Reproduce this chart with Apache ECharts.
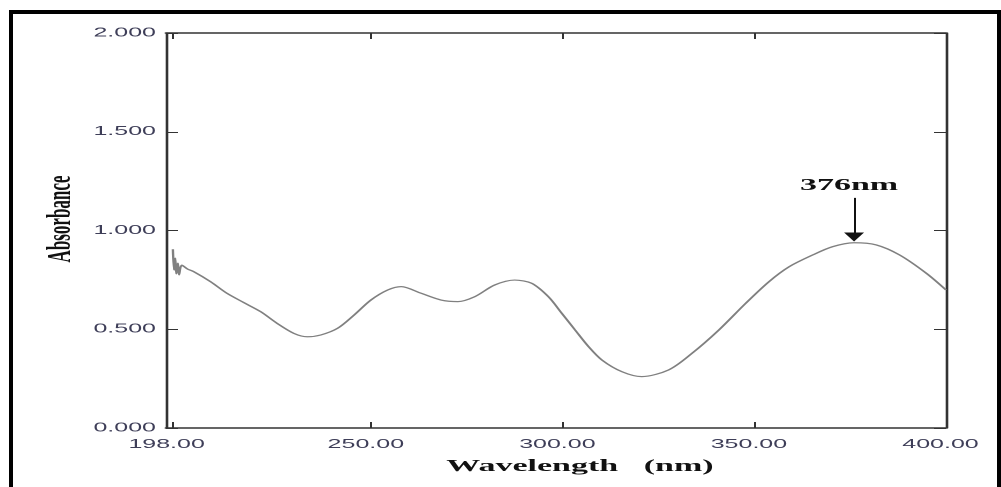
<!DOCTYPE html>
<html>
<head>
<meta charset="utf-8">
<script src="https://cdn.jsdelivr.net/npm/echarts@6/dist/echarts.min.js"></script>
<style>
  html, body { margin: 0; padding: 0; background: #fff; overflow: hidden; }
  /* the original print is stretched about 2x sideways, so draw at half width and stretch */
  #main { width: 500.5px; height: 487px; transform: scaleX(2); transform-origin: 0 0; }
</style>
</head>
<body>
<div id="main"></div>
<script>
// spectrum (nm, absorbance)
var wavelength = [198.2, 198.5, 198.8, 199.1, 199.5, 199.8, 200.5, 202.0, 203.6, 208.0,
  212.3, 216.7, 221.1, 225.4, 229.8, 233.3, 236.8, 241.2, 245.5, 249.9,
  254.3, 257.8, 263.0, 268.2, 272.6, 277.0, 282.2, 287.4, 291.8, 296.2,
  299.7, 303.2, 306.7, 310.2, 315.4, 320.6, 327.6, 333.7, 340.7, 347.7,
  353.8, 359.1, 365.2, 370.4, 376.0, 381.8, 387.9, 394.9, 400.0];
var absorbance = [0.905, 0.800, 0.860, 0.780, 0.835, 0.775, 0.825, 0.805, 0.792, 0.741,
  0.682, 0.635, 0.589, 0.530, 0.479, 0.462, 0.471, 0.505, 0.572, 0.648,
  0.699, 0.716, 0.682, 0.648, 0.640, 0.665, 0.724, 0.749, 0.733, 0.665,
  0.581, 0.496, 0.412, 0.344, 0.285, 0.260, 0.294, 0.378, 0.496, 0.631,
  0.741, 0.817, 0.876, 0.918, 0.938, 0.927, 0.876, 0.783, 0.699];
var xTicks = [198, 250, 300, 350, 400];
var peakNm = 376;
var peakLabel = '376nm';
var arrowFromTo = [1.165, 0.967];

var myChart = echarts.init(document.getElementById('main'), null, {renderer: 'canvas', devicePixelRatio: 2});

var axisColor = '#333';
var labelStyle = {fontFamily: 'Liberation Sans, Arial', fontSize: 12.5, color: '#3e3e58'};
var serifBold = {fontFamily: 'Liberation Serif, Times New Roman', fontWeight: 'bold', color: '#111'};

var data = [];
for (var i = 0; i < wavelength.length; i++) {
  data.push([wavelength[i], absorbance[i]]);
}

function xAxisOf(pos, showLabel) {
  return {
    type: 'value', position: pos, min: 196.4, max: 400,
    axisLine: {show: true, onZero: false, lineStyle: {color: axisColor, width: 1.5}},
    axisTick: {show: true, inside: true, length: 6, customValues: xTicks, lineStyle: {color: axisColor, width: 1}},
    axisLabel: Object.assign({show: showLabel, customValues: xTicks, margin: 10, padding: [0, 5.5, 0, 0],
      formatter: function (v) { return v.toFixed(2); }}, labelStyle),
    splitLine: {show: false}
  };
}
function yAxisOf(pos, showLabel) {
  return {
    type: 'value', position: pos, min: 0, max: 2, interval: 0.5,
    axisLine: {show: true, onZero: false, lineStyle: {color: axisColor, width: 1.3}},
    axisTick: {show: true, inside: true, length: 6, lineStyle: {color: axisColor, width: 1}},
    axisLabel: Object.assign({show: showLabel, margin: 5,
      formatter: function (v) { return v.toFixed(3); }}, labelStyle),
    splitLine: {show: false}
  };
}

var xBottom = xAxisOf('bottom', true);
xBottom.name = 'Wavelength   (nm)';
xBottom.nameLocation = 'middle';
xBottom.nameGap = 30;
xBottom.nameMoveOverlap = false;
xBottom.nameTextStyle = Object.assign({fontSize: 17, padding: [0, 0, 0, 24]}, serifBold);

var yLeft = yAxisOf('left', true);
yLeft.name = 'Absorbance';
yLeft.nameLocation = 'middle';
yLeft.nameRotate = 90;
yLeft.nameGap = 44;
yLeft.nameMoveOverlap = false;
yLeft.nameTextStyle = Object.assign({fontSize: 17, padding: [0, 0, 0, 23]}, serifBold);

var option = {
  animation: false,
  backgroundColor: '#fff',
  grid: {left: 83, right: 28, top: 33, bottom: 59},
  xAxis: [xBottom, xAxisOf('top', false)],
  yAxis: [yLeft, yAxisOf('right', false)],
  graphic: [
    {type: 'line', shape: {x1: 5.5, y1: 10, x2: 5.5, y2: 490}, style: {stroke: '#000', lineWidth: 2}},
    {type: 'line', shape: {x1: 499.5, y1: 10, x2: 499.5, y2: 490}, style: {stroke: '#000', lineWidth: 2}},
    {type: 'line', shape: {x1: 4.5, y1: 12, x2: 500.5, y2: 12}, style: {stroke: '#000', lineWidth: 4}}
  ],
  series: [{
    type: 'line',
    data: data,
    showSymbol: false,
    smooth: 0.3,
    lineStyle: {color: '#808080', width: 1.2},
    markLine: {
      silent: true,
      symbol: ['none', 'triangle'],
      symbolSize: [10, 9],
      lineStyle: {color: '#111', width: 1, type: 'solid'},
      label: Object.assign({show: true, position: 'start', distance: 4, fontSize: 17,
        padding: [0, 5, 0, 0], formatter: peakLabel}, serifBold),
      data: [[{coord: [peakNm, arrowFromTo[0]]}, {coord: [peakNm, arrowFromTo[1]]}]]
    }
  }]
};
myChart.setOption(option, true);
</script>
</body>
</html>
